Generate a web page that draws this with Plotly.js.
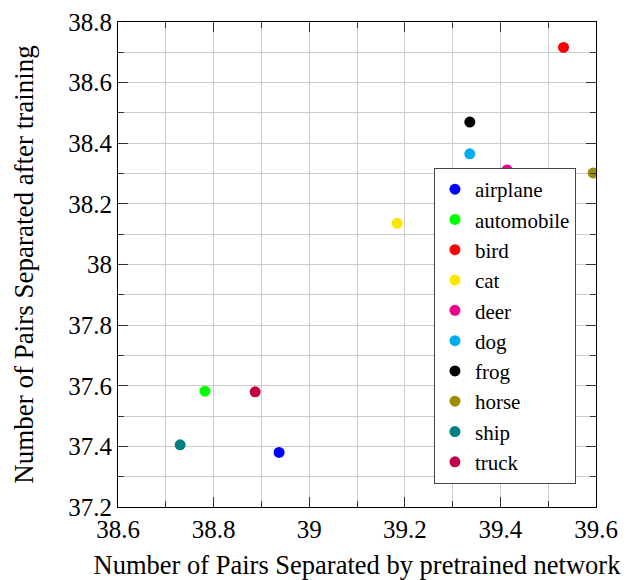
<!DOCTYPE html>
<html>
<head>
<meta charset="utf-8">
<script src="https://cdn.plot.ly/plotly-3.0.1.min.js"></script>
<style>html,body{margin:0;padding:0;background:#fff;}#chart{width:630px;height:580px;}</style>
</head>
<body>
<div id="chart"></div>
<script>
const categories = ["airplane","automobile","bird","cat","deer","dog","frog","horse","ship","truck"];
const pretrained = [38.937, 38.782, 39.532, 39.184, 39.414, 39.336, 39.336, 39.594, 38.730, 38.887];
const afterTraining = [37.380, 37.582, 38.716, 38.136, 38.312, 38.365, 38.470, 38.302, 37.405, 37.580];
const colors = ["#0000ff","#00ff00","#ff0000","#ffe600","#ec008c","#00aeef","#000000","#9c8e00","#008080","#c0004a"];
const xTickVals = [38.6, 38.8, 39, 39.2, 39.4, 39.6];
const xTickText = ["38.6","38.8","39","39.2","39.4","39.6"];
const yTickVals = [37.2, 37.4, 37.6, 37.8, 38, 38.2, 38.4, 38.6, 38.8];
const yTickText = ["37.2","37.4","37.6","37.8","38","38.2","38.4","38.6","38.8"];

const FONT = "Liberation Serif";

const traces = categories.map((c, i) => ({
  type: "scatter",
  mode: "markers",
  name: c,
  x: [pretrained[i]],
  y: [afterTraining[i]],
  marker: {color: colors[i], size: 11}
}));

function axis(extra) {
  return Object.assign({
    showline: true, linecolor: "#000", linewidth: 1, mirror: "ticks",
    ticks: "inside", ticklen: 10, tickcolor: "#333", tickwidth: 1,
    showgrid: true, gridcolor: "#cccccc", gridwidth: 1,
    zeroline: false,
    tickfont: {family: FONT, size: 25, color: "#000"},
    minor: {dtick: 0.1, ticks: "inside", ticklen: 6, tickcolor: "#333", showgrid: true, gridcolor: "#cccccc", gridwidth: 1}
  }, extra);
}

const layout = {
  width: 630, height: 580,
  margin: {l: 118, r: 34, t: 22, b: 73},
  paper_bgcolor: "#fff", plot_bgcolor: "#fff",
  font: {family: FONT, color: "#000"},
  showlegend: true,
  xaxis: axis({
    range: [38.6, 39.6], tickmode: "array", tickvals: xTickVals, ticktext: xTickText,
    title: {text: "Number of Pairs Separated by pretrained network", font: {family: FONT, size: 26.5, color: "#000"}, standoff: 13}
  }),
  yaxis: axis({
    range: [37.2, 38.8], tickmode: "array", tickvals: yTickVals, ticktext: yTickText,
    title: {text: "Number of Pairs Separated after training", font: {family: FONT, size: 27, color: "#000"}, standoff: 26}
  }),
  legend: {
    x: 0.661, y: 0.699, xanchor: "left", yanchor: "top",
    bgcolor: "#fff", bordercolor: "#444", borderwidth: 1,
    font: {family: FONT, size: 21, color: "#000"},
    itemwidth: 30
  }
};

Plotly.newPlot("chart", traces, layout, {displayModeBar: false, staticPlot: true});
</script>
</body>
</html>
